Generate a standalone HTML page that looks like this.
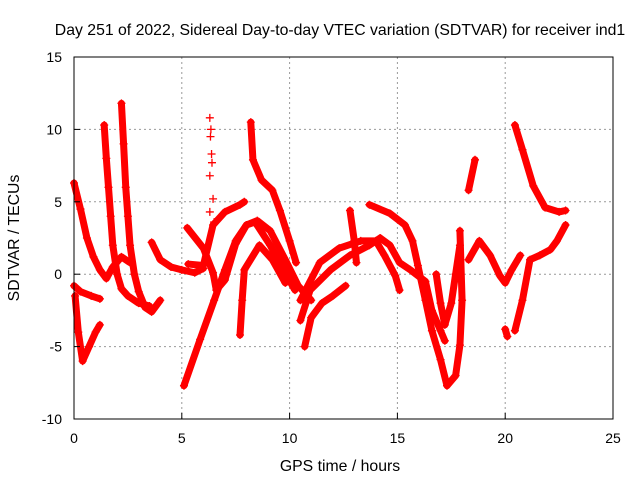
<!DOCTYPE html>
<html><head><meta charset="utf-8"><style>
body{margin:0;background:#fff}
svg{display:block;font-family:"Liberation Sans",sans-serif}
</style></head><body>
<svg id="chart" width="640" height="480" xmlns="http://www.w3.org/2000/svg">
<rect width="640" height="480" fill="#fff"/>
<text x="340" y="35" font-size="15.8" text-anchor="middle">Day 251 of 2022, Sidereal Day-to-day VTEC variation (SDTVAR) for receiver ind1</text>
<g id="grid"></g>
<g id="marks"></g>
<rect x="74" y="57" width="539" height="362" fill="none" stroke="#000" stroke-width="1"/>
<g id="ticks"></g>
<text x="340" y="471" font-size="15.8" text-anchor="middle">GPS time / hours</text>
<text transform="translate(19,238) rotate(-90)" font-size="15.8" text-anchor="middle">SDTVAR / TECUs</text>
</svg>
<script>
const xTicks=[0,5,10,15,20,25];
const yTicks=[-10,-5,0,5,10,15];
const track1=[[0,6.3],[0.3,4.5],[0.6,2.5],[0.9,1.2],[1.2,0.3],[1.5,-0.3],[1.8,0.5],[2.2,1.2],[2.6,0.8]];
const track2=[[1.4,10.3],[1.5,8],[1.6,6],[1.7,4],[1.8,2],[2.0,0],[2.2,-1],[2.5,-1.5],[3,-2],[3.5,-2.2]];
const track3=[[2.2,11.8],[2.3,9],[2.4,6],[2.5,4],[2.6,2],[2.8,0],[3.0,-1.2],[3.3,-2.3],[3.6,-2.6],[4,-1.8]];
const track4=[[0,-0.8],[0.3,-1.2],[0.8,-1.5],[1.2,-1.7]];
const track5=[[0.05,-1.5],[0.2,-4],[0.4,-6],[0.7,-5],[1,-4],[1.2,-3.5]];
const track6=[[3.6,2.2],[4,1],[4.5,0.5],[5,0.3],[5.6,0.1],[6,0.4]];
const track7=[[5.25,3.2],[6,1.8],[6.45,0.1],[6.6,-1.1],[7,-0.4],[7.5,2.1],[8,3.4],[8.5,3.7],[9.1,3],[9.8,1],[10.4,-0.8],[11,-1.8]];
const track8=[[5.3,0.7],[6,0.6],[6.45,3.4],[7,4.3],[7.7,4.8],[7.9,5]];
const track9=[[5.1,-7.7],[5.85,-4.5],[6.5,-1.8],[7,0.3],[7.5,2.3],[8,3.4],[8.4,3.6],[9.1,2],[9.7,0.3],[10.25,-1.1]];
const track10=[[7.7,-4.2],[7.8,-1.8],[7.9,0.3],[8.6,2],[9.2,1],[9.8,-0.6]];
const track11=[[8.2,10.5],[8.3,7.9],[8.7,6.5],[9.2,5.8],[9.55,4.4],[10,2.3],[10.3,0.8]];
const sparse12=[[6.3,10.8],[6.35,10],[6.33,9.5],[6.38,8.3],[6.4,7.7],[6.3,6.8],[6.45,5.2],[6.3,4.3],[6.5,3.6]];
const track13=[[10.5,-3.2],[10.95,-1.1],[11.9,0.3],[12.8,1.3],[13.7,2],[14.2,2.5],[14.65,2],[15.1,0.8],[15.6,0.3],[16.3,-0.5],[16.6,-2.5],[17,-3.9],[17.2,-4.6]];
const track14=[[10.5,-1.8],[11.4,0.8],[12.3,1.8],[13.3,2.3],[14,2.3],[14.4,1.3],[14.9,-0.1],[15.1,-1.1]];
const track15=[[13.7,4.8],[14.65,4.2],[15.35,3.4],[15.7,2.3],[15.95,0.6],[16.3,-1.8],[16.6,-3.9],[17,-5.9],[17.3,-7.7],[17.7,-7],[17.9,-4.9],[18,-1.8],[17.9,3]];
const track16=[[12.8,4.4],[13,2.3],[13.1,0.8]];
const track17=[[10.7,-5],[11,-3],[11.5,-2],[12,-1.5],[12.6,-0.8]];
const track18=[[18.3,5.8],[18.6,7.9]];
const track19=[[18.3,1],[18.8,2.3],[19.3,1.3],[19.75,-0.1],[20,-0.6],[20.3,0.3],[20.7,1.3]];
const track20=[[20.45,10.3],[20.8,8.6],[21.3,6.1],[21.85,4.6],[22.5,4.3],[22.8,4.4]];
const track21=[[20.45,-3.9],[20.8,-1.8],[21.15,1],[21.6,1.3],[22.1,1.7],[22.4,2.3],[22.8,3.4]];
const track22=[[16.8,0],[17,-2],[17.2,-3.5],[17.5,-2],[17.7,0],[17.9,2]];
const track23=[[20.0,-3.8],[20.1,-4.3]];
const tracks=[track1,track2,track3,track4,track5,track6,track7,track8,track9,track10,track11,track13,track14,track15,track16,track17,track18,track19,track20,track21,track22,track23];

const X0=74,X1=613,Y0=419,Y1=57;
function sx(t){return X0+(t-0)/(25-0)*(X1-X0);}
function sy(v){return Y0-(v+10)/(15+10)*(Y0-Y1);}
const NS="http://www.w3.org/2000/svg";
const grid=document.getElementById('grid'),ticks=document.getElementById('ticks'),marks=document.getElementById('marks');
function mk(tag,attrs,parent){const e=document.createElementNS(NS,tag);for(const k in attrs)e.setAttribute(k,attrs[k]);parent.appendChild(e);return e;}
xTicks.forEach(t=>{
  const x=sx(t);
  if(t>0&&t<25){const g=mk('line',{x1:x,x2:x,y1:Y1,y2:Y0,stroke:'#999','stroke-dasharray':'2,3'},grid);
  
  }
  const a=mk('line',{x1:x,x2:x,y1:Y0,y2:Y0-6,stroke:'#000'},ticks);
  
  
  const l=mk('text',{x:x,y:Y0+24,'font-size':14,'text-anchor':'middle'},ticks);l.textContent=t;
  
  
});
yTicks.forEach(v=>{
  const y=sy(v);
  if(v>-10&&v<15){const g=mk('line',{x1:X0,x2:X1,y1:y,y2:y,stroke:'#999','stroke-dasharray':'2,3'},grid);
  
  }
  const a=mk('line',{x1:X0,x2:X0+6,y1:y,y2:y,stroke:'#000'},ticks);
  
  
  const l=mk('text',{x:X0-12,y:y+5,'font-size':14,'text-anchor':'end'},ticks);l.textContent=v;
  
  
});
function plus(x,y){
  const m=mk('path',{d:`M${x-4},${y}h8M${x},${y-4}v8`,stroke:'#f00','stroke-width':1.3},marks);
  
  
}
tracks.forEach((tr,i)=>{
  const p=mk('polyline',{points:tr.map(d=>sx(d[0])+','+sy(d[1])).join(' '),fill:'none',stroke:'#f00','stroke-width':7,'stroke-linejoin':'round','stroke-linecap':'round'},marks);
  
  
  tr.forEach(d=>plus(sx(d[0]),sy(d[1])));
});
sparse12.forEach(d=>plus(sx(d[0]),sy(d[1])));
</script>
</body></html>
